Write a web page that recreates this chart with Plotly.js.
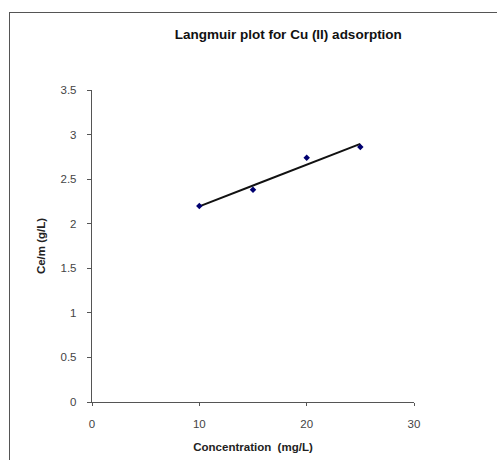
<!DOCTYPE html>
<html>
<head>
<meta charset="utf-8">
<script src="https://cdn.plot.ly/plotly-3.0.1.min.js"></script>
<style>
html,body{margin:0;padding:0;background:#fff;}
#frame{position:absolute;left:9px;top:12px;width:600px;height:600px;border-left:1.5px solid #555;border-top:1.5px solid #555;}
#chart{position:absolute;left:0;top:0;width:497px;height:460px;}
</style>
</head>
<body>
<div id="frame"></div>
<div id="chart"></div>
<script>
const concentration = [10, 15, 20, 25];
const ceOverM = [2.2, 2.38, 2.74, 2.86];
const xTicks = [0, 10, 20, 30];
const yTicks = [0, 0.5, 1, 1.5, 2, 2.5, 3, 3.5];

// least-squares linear trendline computed from the data
const n = concentration.length;
const mx = concentration.reduce((a,b)=>a+b,0)/n;
const my = ceOverM.reduce((a,b)=>a+b,0)/n;
let sxy=0, sxx=0;
for (let i=0;i<n;i++){ sxy+=(concentration[i]-mx)*(ceOverM[i]-my); sxx+=(concentration[i]-mx)**2; }
const slope = sxy/sxx, intercept = my - slope*mx;
const tx = [Math.min(...concentration), Math.max(...concentration)];
const ty = tx.map(x=>intercept+slope*x);

const traces = [
  {x: tx, y: ty, mode:'lines', line:{color:'#111', width:2}, hoverinfo:'skip', showlegend:false},
  {x: concentration, y: ceOverM, mode:'markers', marker:{symbol:'diamond', size:5, color:'#000070'}, showlegend:false}
];

const layout = {
  width:497, height:460,
  margin:{l:92, r:83, t:90, b:58},
  paper_bgcolor:'rgba(0,0,0,0)', plot_bgcolor:'rgba(0,0,0,0)',
  font:{family:'Liberation Sans, Arial, sans-serif', color:'#333'},
  title:{text:'<b>Langmuir plot for Cu (II) adsorption</b>', x:0.58, xanchor:'center', y:0.925, yanchor:'middle', font:{size:13.5, color:'#111'}},
  xaxis:{range:[0,30], tickvals:xTicks, ticktext:xTicks.map(String), showgrid:false, zeroline:false,
    showline:true, linecolor:'#555', linewidth:1.2, ticks:'outside', ticklen:3, tickcolor:'#555',
    ticklabelstandoff:8,
    tickfont:{size:11.5, color:'#444'},
    title:{text:'<b>Concentration  (mg/L)</b>', font:{size:11.5, color:'#222'}, standoff:14}},
  yaxis:{range:[0,3.5], tickvals:yTicks, ticktext:yTicks.map(String), showgrid:false, zeroline:false,
    showline:true, linecolor:'#555', linewidth:1.2, ticks:'outside', ticklen:4, tickcolor:'#555',
    ticklabelstandoff:8,
    tickfont:{size:11.5, color:'#444'},
    title:{text:'<b>Ce/m (g/L)</b>', font:{size:11.5, color:'#222'}, standoff:12}}
};

Plotly.newPlot('chart', traces, layout, {displayModeBar:false, staticPlot:true});
</script>
</body>
</html>
